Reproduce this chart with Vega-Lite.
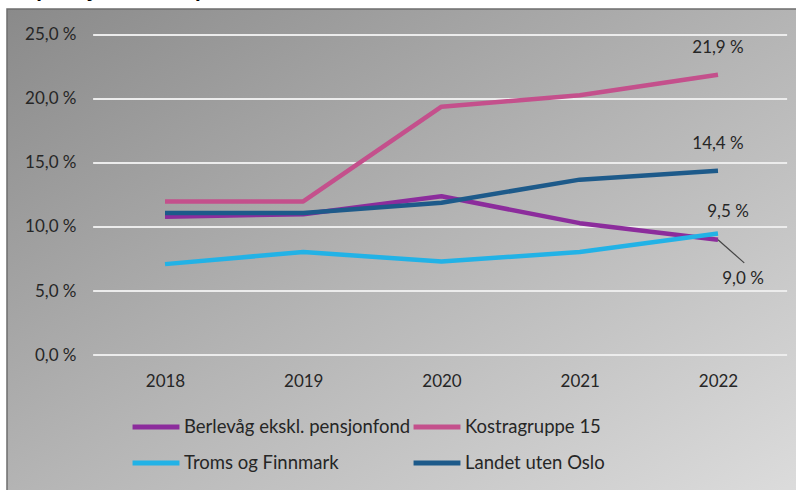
{
  "$schema": "https://vega.github.io/schema/vega-lite/v6.json",
  "width": 792,
  "height": 484,
  "autosize": {"type": "none"},
  "padding": {"left": 7, "top": 9, "right": 0, "bottom": 0},
  "background": "white",
  "title": {
    "text": "Disposisjonsfond i prosent av brutto driftsinntekter",
    "anchor": "start",
    "frame": "bounds",
    "baseline": "alphabetic",
    "font": "Lato",
    "fontSize": 23,
    "fontWeight": "bold",
    "color": "#000000",
    "offset": -11,
    "dx": -4
  },
  "config": {
    "view": {
      "fill": {
        "gradient": "linear",
        "x1": 0, "y1": 0, "x2": 1, "y2": 1,
        "stops": [
          {"offset": 0, "color": "#8a8a8a"},
          {"offset": 0.5, "color": "#b4b4b4"},
          {"offset": 1, "color": "#dcdcdc"}
        ]
      },
      "stroke": "#6e6e6e",
      "strokeWidth": 1.5
    },
    "font": "Lato",
    "axis": {
      "grid": false, "domain": false, "ticks": false, "labelOverlap": false,
      "labelFont": "Lato", "labelFontSize": 17, "labelColor": "#262626", "zindex": 1
    }
  },
  "datasets": {
    "series": [
      {"serie": "Berlevåg ekskl. pensjonfond", "year": 2018, "value": 10.8},
      {"serie": "Berlevåg ekskl. pensjonfond", "year": 2019, "value": 11.0},
      {"serie": "Berlevåg ekskl. pensjonfond", "year": 2020, "value": 12.4},
      {"serie": "Berlevåg ekskl. pensjonfond", "year": 2021, "value": 10.3},
      {"serie": "Berlevåg ekskl. pensjonfond", "year": 2022, "value": 9.0},
      {"serie": "Kostragruppe 15", "year": 2018, "value": 12.0},
      {"serie": "Kostragruppe 15", "year": 2019, "value": 12.0},
      {"serie": "Kostragruppe 15", "year": 2020, "value": 19.4},
      {"serie": "Kostragruppe 15", "year": 2021, "value": 20.3},
      {"serie": "Kostragruppe 15", "year": 2022, "value": 21.9},
      {"serie": "Troms og Finnmark", "year": 2018, "value": 7.1},
      {"serie": "Troms og Finnmark", "year": 2019, "value": 8.05},
      {"serie": "Troms og Finnmark", "year": 2020, "value": 7.3},
      {"serie": "Troms og Finnmark", "year": 2021, "value": 8.05},
      {"serie": "Troms og Finnmark", "year": 2022, "value": 9.5},
      {"serie": "Landet uten Oslo", "year": 2018, "value": 11.1},
      {"serie": "Landet uten Oslo", "year": 2019, "value": 11.1},
      {"serie": "Landet uten Oslo", "year": 2020, "value": 11.9},
      {"serie": "Landet uten Oslo", "year": 2021, "value": 13.7},
      {"serie": "Landet uten Oslo", "year": 2022, "value": 14.4}
    ],
    "ticks": [{"v": 0}, {"v": 5}, {"v": 10}, {"v": 15}, {"v": 20}, {"v": 25}]
  },
  "layer": [
    {
      "data": {"name": "ticks"},
      "mark": {"type": "rule", "color": "#ececec", "strokeWidth": 2},
      "encoding": {
        "y": {"field": "v", "type": "quantitative", "title": null, "scale": {"domain": [-10.781, 27.031], "nice": false, "zero": false}},
        "x": {"datum": 2017.48, "type": "quantitative", "title": null, "scale": {"domain": [2016.857, 2022.586], "nice": false, "zero": false}},
        "x2": {"datum": 2022.5}
      }
    },
    {
      "data": {"name": "series"},
      "mark": {"type": "line", "strokeWidth": 4.5, "strokeJoin": "round"},
      "encoding": {
        "x": {
          "field": "year", "type": "quantitative", "title": null,
          "scale": {"domain": [2016.857, 2022.586], "nice": false, "zero": false},
          "axis": {"values": [2018, 2019, 2020, 2021, 2022], "format": "d", "title": null,
            "offset": -138, "labelPadding": 18, "labelFlush": false}
        },
        "y": {
          "field": "value", "type": "quantitative", "title": null,
          "scale": {"domain": [-10.781, 27.031], "nice": false, "zero": false},
          "axis": {
            "values": [0, 5, 10, 15, 20, 25], "title": null, "offset": -86, "labelPadding": 17,
            "labelExpr": "replace(format(datum.value, '.1f'), '.', ',') + ' %'"
          }
        },
        "color": {
          "field": "serie", "type": "nominal",
          "scale": {
            "domain": ["Berlevåg ekskl. pensjonfond", "Kostragruppe 15", "Troms og Finnmark", "Landet uten Oslo"],
            "range": ["#8c2c9c", "#c4508c", "#22b2e6", "#1d5a8a"]
          },
          "legend": {
            "title": null, "orient": "none", "legendX": 123, "legendY": 392, "direction": "horizontal",
            "columns": 2, "symbolType": "stroke", "symbolSize": 2200, "symbolStrokeWidth": 5,
            "labelFont": "Lato", "labelFontSize": 18.5, "labelColor": "#262626", "labelOffset": 2, "labelLimit": 400,
            "columnPadding": -11, "rowPadding": -8, "zindex": 1
          }
        }
      }
    },
    {
      "data": {"name": "series"},
      "transform": [{"filter": "datum.year == 2022 && (datum.serie == 'Kostragruppe 15' || datum.serie == 'Landet uten Oslo')"}],
      "mark": {"type": "text", "font": "Lato", "fontSize": 17, "color": "#262626", "dx": 0, "dy": -27,
        "text": {"expr": "replace(format(datum.value, '.1f'), '.', ',') + ' %'"}},
      "encoding": {
        "x": {"field": "year", "type": "quantitative", "title": null, "scale": {"domain": [2016.857, 2022.586], "nice": false, "zero": false}},
        "y": {"field": "value", "type": "quantitative", "title": null, "scale": {"domain": [-10.781, 27.031], "nice": false, "zero": false}}
      }
    },
    {
      "data": {"name": "series"},
      "transform": [{"filter": "datum.year == 2022 && datum.serie == 'Troms og Finnmark'"}],
      "mark": {"type": "text", "font": "Lato", "fontSize": 17, "color": "#262626", "dx": 10, "dy": -21,
        "text": {"expr": "replace(format(datum.value, '.1f'), '.', ',') + ' %'"}},
      "encoding": {
        "x": {"field": "year", "type": "quantitative", "title": null, "scale": {"domain": [2016.857, 2022.586], "nice": false, "zero": false}},
        "y": {"field": "value", "type": "quantitative", "title": null, "scale": {"domain": [-10.781, 27.031], "nice": false, "zero": false}}
      }
    },
    {
      "data": {"name": "series"},
      "transform": [{"filter": "datum.year == 2022 && datum.serie == 'Berlevåg ekskl. pensjonfond'"}],
      "mark": {"type": "rule", "color": "#444444", "strokeWidth": 1.2},
      "encoding": {
        "x": {"field": "year", "type": "quantitative", "title": null, "scale": {"domain": [2016.857, 2022.586], "nice": false, "zero": false}},
        "y": {"field": "value", "type": "quantitative", "title": null, "scale": {"domain": [-10.781, 27.031], "nice": false, "zero": false}},
        "x2": {"datum": 2022.19},
        "y2": {"datum": 7.2}
      }
    },
    {
      "data": {"name": "series"},
      "transform": [{"filter": "datum.year == 2022 && datum.serie == 'Berlevåg ekskl. pensjonfond'"}],
      "mark": {"type": "text", "font": "Lato", "fontSize": 17, "color": "#262626", "dx": 25, "dy": 39,
        "text": {"expr": "replace(format(datum.value, '.1f'), '.', ',') + ' %'"}},
      "encoding": {
        "x": {"field": "year", "type": "quantitative", "title": null, "scale": {"domain": [2016.857, 2022.586], "nice": false, "zero": false}},
        "y": {"field": "value", "type": "quantitative", "title": null, "scale": {"domain": [-10.781, 27.031], "nice": false, "zero": false}}
      }
    }
  ]
}
